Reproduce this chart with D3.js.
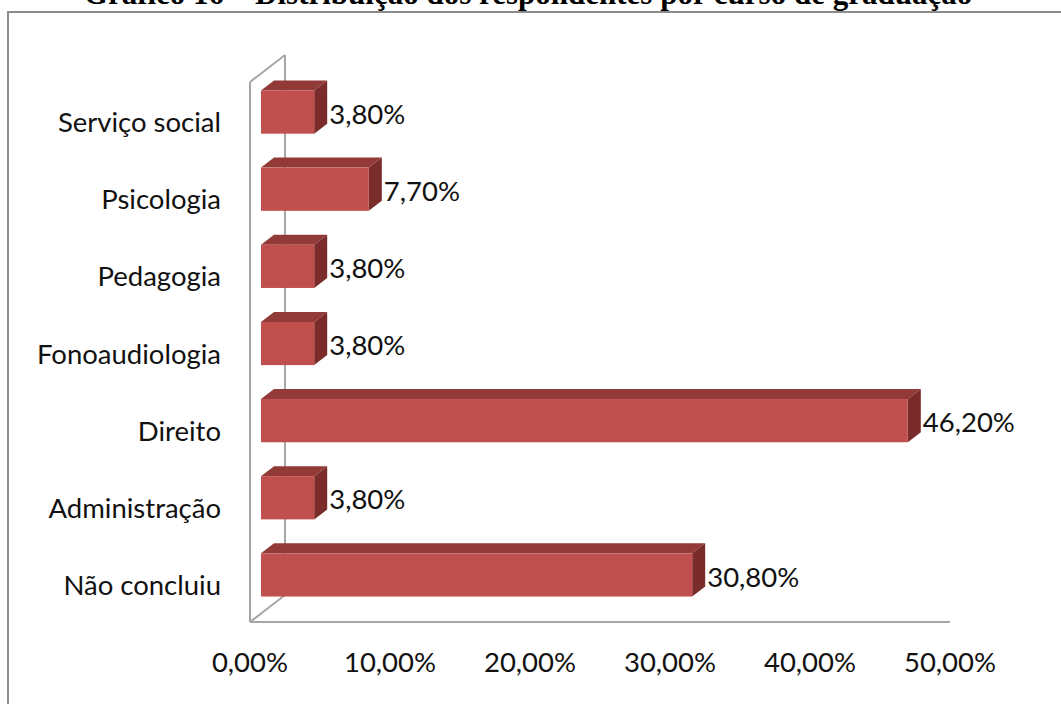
<!DOCTYPE html>
<html><head><meta charset="utf-8">
<script src="https://cdn.jsdelivr.net/npm/d3@7"></script>
<style>body{margin:0;background:#fff}svg{display:block}</style>
</head><body>
<svg id="c" width="1061" height="704"></svg>
<script>
const title = "Gráfico 16 – Distribuição dos respondentes por curso de graduação";
const categories = ["Serviço social","Psicologia","Pedagogia","Fonoaudiologia","Direito","Administração","Não concluiu"];
const values = [3.8, 7.7, 3.8, 3.8, 46.2, 3.8, 30.8];
const valueLabels = ["3,80%","7,70%","3,80%","3,80%","46,20%","3,80%","30,80%"];
const ticks = [0,10,20,30,40,50];
const tickLabels = ["0,00%","10,00%","20,00%","30,00%","40,00%","50,00%"];

const svg = d3.select("#c");
const font = "Lato, 'Open Sans', sans-serif";
const fs = 27.5;

// outer frame
svg.append("path").attr("d","M8,704 L8,12 L1061,12").attr("fill","none").attr("stroke","#8c8c8c").attr("stroke-width",2);
svg.append("text").attr("x",528).attr("y",4).attr("text-anchor","middle")
  .attr("font-family","'Liberation Serif','Times New Roman',serif").attr("font-weight","bold").attr("font-size",31)
  .attr("fill","#000").text(title);

const x = d3.scaleLinear().domain([0,50]).range([250,950]);
const y = d3.scaleBand().domain(categories).range([82,622]).paddingInner(0.44).paddingOuter(0.22);
const depth = {dx:35, dy:-27};
const barPlane = {dx:11, dy:-8.5};
const bd = {dx:13, dy:-10};

// walls
const wall = svg.append("g").attr("stroke","#a6a6a6").attr("stroke-width",2).attr("fill","none");
const x0 = x(0), yTop = y.range()[0], yBot = y.range()[1];
wall.append("line").attr("x1",x0+depth.dx).attr("y1",yTop+depth.dy).attr("x2",x0+depth.dx).attr("y2",yBot+depth.dy);
wall.append("line").attr("x1",x0).attr("y1",yTop).attr("x2",x0+depth.dx).attr("y2",yTop+depth.dy);
wall.append("line").attr("x1",x0).attr("y1",yBot).attr("x2",x0+depth.dx).attr("y2",yBot+depth.dy);
wall.append("line").attr("x1",x0).attr("y1",yTop).attr("x2",x0).attr("y2",yBot);
wall.append("line").attr("x1",x0).attr("y1",yBot).attr("x2",x(50)).attr("y2",yBot);

// bars
const bars = svg.append("g").selectAll("g").data(categories).join("g");
bars.each(function(c,i){
  const g = d3.select(this);
  const xl = x(0)+barPlane.dx, xr = x(values[i])+barPlane.dx;
  const yt = y(c)+barPlane.dy, yb = yt + y.bandwidth();
  g.append("path").attr("d",`M${xl},${yt}L${xl+bd.dx},${yt+bd.dy}L${xr+bd.dx},${yt+bd.dy}L${xr},${yt}Z`).attr("fill","#923a38");
  g.append("path").attr("d",`M${xr},${yt}L${xr+bd.dx},${yt+bd.dy}L${xr+bd.dx},${yb+bd.dy}L${xr},${yb}Z`).attr("fill","#7a2c2a");
  g.append("rect").attr("x",xl).attr("y",yt).attr("width",xr-xl).attr("height",yb-yt).attr("fill","#c0504d");
  g.append("text").attr("x",xr+bd.dx+2).attr("y",(yt+yb)/2+2).attr("dy","0.35em")
    .attr("font-family",font).attr("font-size",fs).attr("fill","#111").text(valueLabels[i]);
});

// category labels
svg.append("g").selectAll("text").data(categories).join("text")
  .attr("x",221).attr("y",d=>y(d)+y.bandwidth()/2+2).attr("dy","0.35em").attr("text-anchor","end")
  .attr("font-family",font).attr("font-size",fs).attr("fill","#111").text(d=>d);

// x tick labels
svg.append("g").selectAll("text").data(ticks).join("text")
  .attr("x",d=>x(d)).attr("y",672).attr("text-anchor","middle")
  .attr("font-family",font).attr("font-size",fs).attr("fill","#111").text((d,i)=>tickLabels[i]);
</script>
</body></html>
